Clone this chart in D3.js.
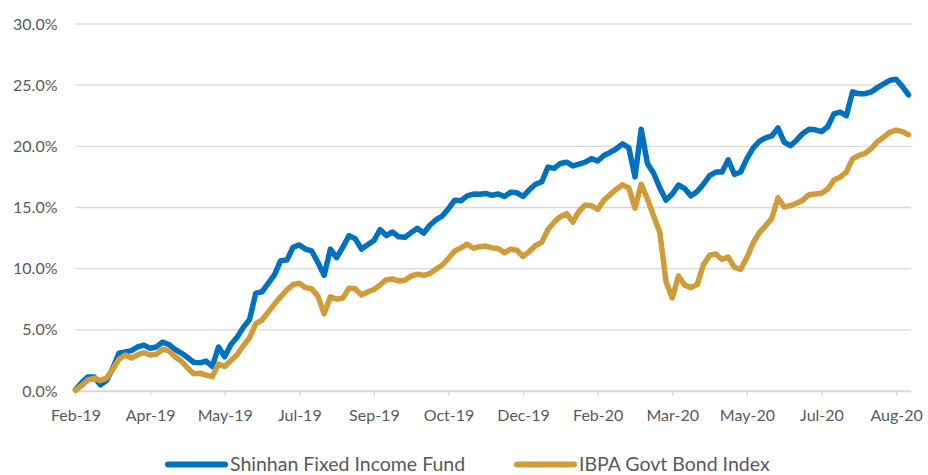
<!DOCTYPE html>
<html>
<head>
<meta charset="utf-8">
<script src="https://cdn.jsdelivr.net/npm/d3@7"></script>
<style>
  body { margin: 0; background: #fff; }
  svg text { font-family: Lato, "Open Sans", sans-serif; fill: #595959; }
</style>
</head>
<body>
<div id="chart"></div>
<script>
// x-axis category labels, one every 12 points
const tickLabels = ["Feb-19", "Apr-19", "May-19", "Jul-19", "Sep-19", "Oct-19",
  "Dec-19", "Feb-20", "Mar-20", "May-20", "Jul-20", "Aug-20"];
const pointsPerTick = 12;

const yTicks = [0, 5, 10, 15, 20, 25, 30];

const seriesNames = ["Shinhan Fixed Income Fund", "IBPA Govt Bond Index"];

// cumulative return, %
const fundValues = [
  0.1, 0.7, 1.15, 1.15, 0.5, 0.85, 1.85, 3.1, 3.2, 3.3, 3.6, 3.75,
  3.5, 3.6, 4.0, 3.8, 3.4, 3.1, 2.75, 2.35, 2.3, 2.45, 2.0, 3.6,
  2.8, 3.8, 4.4, 5.2, 5.85, 8.0, 8.1, 8.8, 9.5, 10.65, 10.7, 11.75,
  11.94, 11.6, 11.45, 10.5, 9.45, 11.6, 10.9, 11.75, 12.7, 12.45, 11.6, 11.95,
  12.3, 13.2, 12.7, 13.0, 12.6, 12.57, 12.95, 13.3, 12.9, 13.55, 14.0, 14.3,
  14.9, 15.6, 15.55, 15.95, 16.1, 16.08, 16.15, 16.0, 16.1, 15.9, 16.25, 16.2,
  15.9, 16.45, 16.9, 17.1, 18.3, 18.2, 18.6, 18.7, 18.4, 18.55, 18.7, 19.0,
  18.8, 19.25, 19.5, 19.8, 20.2, 19.9, 17.5, 21.4, 18.6, 17.8, 16.6, 15.6,
  16.1, 16.84, 16.55, 15.95, 16.3, 16.9, 17.6, 17.9, 17.9, 18.9, 17.7, 17.9,
  19.0, 19.85, 20.4, 20.7, 20.85, 21.5, 20.35, 20.05, 20.5, 21.05, 21.4, 21.35,
  21.2, 21.6, 22.65, 22.8, 22.5, 24.45, 24.3, 24.3, 24.45, 24.8, 25.1, 25.4,
  25.49, 24.9, 24.2
];

const indexValues = [
  0.05, 0.45, 0.9, 1.05, 0.85, 1.05, 1.8, 2.6, 2.95, 2.7, 2.95, 3.15,
  2.94, 3.0, 3.4, 3.3, 2.8, 2.45, 1.9, 1.4, 1.45, 1.3, 1.17, 2.2,
  2.0, 2.5, 2.97, 3.7, 4.35, 5.5, 5.8, 6.45, 7.1, 7.7, 8.26, 8.7,
  8.8, 8.45, 8.35, 7.75, 6.3, 7.7, 7.5, 7.6, 8.4, 8.35, 7.85, 8.1,
  8.3, 8.67, 9.1, 9.15, 9.0, 9.05, 9.4, 9.55, 9.45, 9.6, 9.95, 10.3,
  10.85, 11.45, 11.7, 12.0, 11.67, 11.8, 11.85, 11.7, 11.65, 11.3, 11.6, 11.5,
  11.0, 11.4, 11.9, 12.15, 13.2, 13.8, 14.25, 14.5, 13.8, 14.7, 15.2, 15.15,
  14.85, 15.6, 16.05, 16.5, 16.85, 16.6, 14.95, 16.9, 15.7, 14.3, 12.95, 8.9,
  7.6, 9.4, 8.65, 8.45, 8.7, 10.3, 11.1, 11.2, 10.75, 10.95, 10.1, 9.95,
  10.9, 12.1, 12.95, 13.5, 14.1, 15.8, 15.05, 15.15, 15.35, 15.6, 16.05, 16.1,
  16.16, 16.5, 17.25, 17.48, 17.9, 18.97, 19.25, 19.43, 19.8, 20.4, 20.75, 21.15,
  21.33, 21.2, 20.95
];

const colors = ["#0070C0", "#D09B38"];

const width = 928, height = 475;
const svg = d3.select("#chart").append("svg")
  .attr("width", width).attr("height", height);

const plotLeft = 75.5, plotRight = 911, plotTop = 24, plotBottom = 391;

const x = d3.scaleLinear()
  .domain([0, 134.4])
  .range([plotLeft, plotRight]);

const y = d3.scaleLinear()
  .domain([0, 30])
  .range([plotBottom, plotTop]);

// gridlines
svg.append("g")
  .selectAll("line")
  .data(yTicks)
  .join("line")
  .attr("x1", plotLeft).attr("x2", plotRight)
  .attr("y1", d => y(d)).attr("y2", d => y(d))
  .attr("stroke", "#d9d9d9")
  .attr("stroke-width", 1.3);

// y labels
const gy = svg.append("g")
  .attr("transform", `translate(${plotLeft - 18},0)`)
  .call(d3.axisLeft(y).tickValues(yTicks).tickSize(0).tickPadding(0)
    .tickFormat(d => d.toFixed(1) + "%"));
gy.select(".domain").remove();
gy.selectAll("text").attr("font-size", 16).attr("dy", "0.32em");

// x axis
const gx = svg.append("g")
  .attr("transform", `translate(0,${plotBottom})`)
  .call(d3.axisBottom(x)
    .tickValues(tickLabels.map((d, i) => i * pointsPerTick))
    .tickFormat((d, i) => tickLabels[i])
    .tickSizeInner(5).tickSizeOuter(0).tickPadding(14));
gx.select(".domain").attr("stroke", "#d9d9d9").attr("stroke-width", 1.3);
gx.selectAll(".tick line").attr("stroke", "#d9d9d9").attr("stroke-width", 1.3);
gx.selectAll("text").attr("font-size", 16);

// series lines
const line = d3.line()
  .x((d, i) => x(i))
  .y(d => y(d));

[fundValues, indexValues].forEach((values, k) => {
  svg.append("path")
    .datum(values)
    .attr("fill", "none")
    .attr("stroke", colors[k])
    .attr("stroke-width", 5.5)
    .attr("stroke-linejoin", "round")
    .attr("stroke-linecap", "round")
    .attr("d", line);
});

// legend (kept a touch higher so the text is not clipped at the bottom edge)
const legendItems = [
  { x: 168, name: seriesNames[0], color: colors[0] },
  { x: 517, name: seriesNames[1], color: colors[1] }
];
const lg = svg.append("g").attr("transform", "translate(0,464.5)");
legendItems.forEach(item => {
  lg.append("line")
    .attr("x1", item.x).attr("x2", item.x + 57)
    .attr("stroke", item.color)
    .attr("stroke-width", 6)
    .attr("stroke-linecap", "round");
  lg.append("text")
    .attr("x", item.x + 62)
    .attr("dy", "0.33em")
    .attr("font-size", 19.5)
    .text(item.name);
});
</script>
</body>
</html>
